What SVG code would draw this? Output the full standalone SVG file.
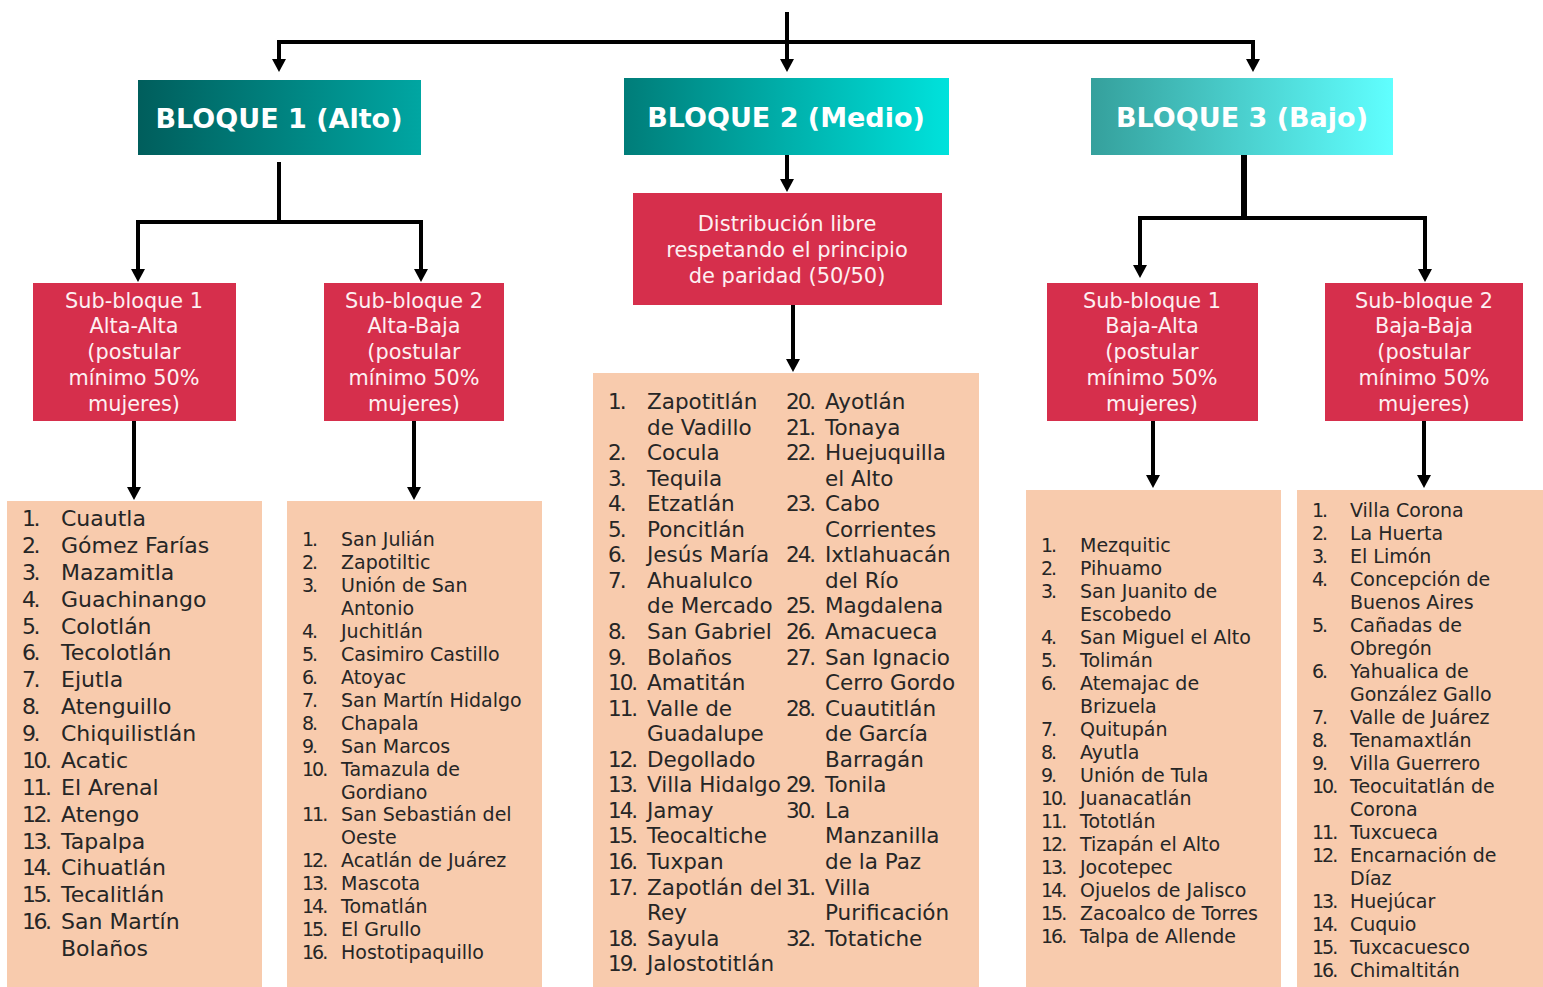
<svg xmlns="http://www.w3.org/2000/svg" width="1543" height="987" viewBox="0 0 1543 987">
<defs>
<linearGradient id="g1" x1="0" y1="0" x2="1" y2="0"><stop offset="0" stop-color="#005E5C"/><stop offset="1" stop-color="#00A6A2"/></linearGradient>
<linearGradient id="g2" x1="0" y1="0" x2="1" y2="0"><stop offset="0" stop-color="#007D79"/><stop offset="1" stop-color="#00E2DC"/></linearGradient>
<linearGradient id="g3" x1="0" y1="0" x2="1" y2="0"><stop offset="0" stop-color="#35A09C"/><stop offset="1" stop-color="#60FFFF"/></linearGradient>
<marker id="ah" markerUnits="userSpaceOnUse" markerWidth="13" markerHeight="14" viewBox="0 -7 13 14" refX="0" refY="0" orient="auto"><path d="M0,-7 L13,0 L0,7 z" fill="#000"/></marker>
<style>
.bq{font-family:"DejaVu Sans",sans-serif;font-weight:bold;font-size:27px;fill:#fff;text-anchor:middle}
.red{fill:#D62F4C}
.rt{font-family:"DejaVu Sans",sans-serif;font-size:20.8px;fill:#FDF0F2;text-anchor:middle}
.mt{font-family:"DejaVu Sans",sans-serif;font-size:21px;fill:#FDF0F2;text-anchor:middle}
.pe{fill:#F8CBAD}
.l1{font-family:"DejaVu Sans",sans-serif;font-size:22px;fill:#262626}
.l2{font-family:"DejaVu Sans",sans-serif;font-size:19px;fill:#262626}
.l3{font-family:"DejaVu Sans",sans-serif;font-size:21.5px;fill:#262626}
.l1 tspan[x="22"]{letter-spacing:-2.5px}
.l2 tspan[x="302"],.l2 tspan[x="1041"],.l2 tspan[x="1312"]{letter-spacing:-2px}
.l3 tspan[x="608"],.l3 tspan[x="786"]{letter-spacing:-2px}
.c{fill:none;stroke:#000;stroke-width:4}
</style>
</defs>
<rect width="1543" height="987" fill="#fff"/>
<g id="connectors">
<path class="c" d="M787,12 V59" marker-end="url(#ah)"/>
<path class="c" d="M279,59 V42 H1253 V59" marker-end="url(#ah)"/>
<path class="c" d="M279,42 V59" marker-end="url(#ah)"/>
<path class="c" d="M279,162 V222 H138 V269" marker-end="url(#ah)"/>
<path class="c" d="M279,222 H421 V269" marker-end="url(#ah)"/>
<path class="c" d="M134,421 V487" marker-end="url(#ah)"/>
<path class="c" d="M414,421 V487" marker-end="url(#ah)"/>
<path class="c" d="M787,155 V179" marker-end="url(#ah)"/>
<path class="c" d="M793,305 V359" marker-end="url(#ah)"/>
<path class="c" d="M1244,155 V218" style="stroke-width:6"/>
<path class="c" d="M1244,218 H1140 V265" marker-end="url(#ah)"/>
<path class="c" d="M1244,218 H1425 V269" marker-end="url(#ah)"/>
<path class="c" d="M1153,421 V475" marker-end="url(#ah)"/>
<path class="c" d="M1424,421 V475" marker-end="url(#ah)"/>
</g>
<g id="bloque1"><rect x="138" y="80" width="283" height="75" fill="url(#g1)"/><text class="bq" x="279" y="128">BLOQUE 1 (Alto)</text></g>
<g id="bloque2"><rect x="624" y="78" width="325" height="77" fill="url(#g2)"/><text class="bq" x="786" y="127">BLOQUE 2 (Medio)</text></g>
<g id="bloque3"><rect x="1091" y="78" width="302" height="77" fill="url(#g3)"/><text class="bq" x="1242" y="127">BLOQUE 3 (Bajo)</text></g>
<g id="sub1-alta"><rect class="red" x="33" y="283" width="203" height="138"/>
<text class="rt" x="134" y="307.5">Sub-bloque 1</text><text class="rt" x="134" y="333.3">Alta-Alta</text><text class="rt" x="134" y="359">(postular</text><text class="rt" x="134" y="384.8">mínimo 50%</text><text class="rt" x="134" y="410.5">mujeres)</text></g>
<g id="sub2-alta"><rect class="red" x="324" y="283" width="180" height="138"/>
<text class="rt" x="414" y="307.5">Sub-bloque 2</text><text class="rt" x="414" y="333.3">Alta-Baja</text><text class="rt" x="414" y="359">(postular</text><text class="rt" x="414" y="384.8">mínimo 50%</text><text class="rt" x="414" y="410.5">mujeres)</text></g>
<g id="distribucion"><rect class="red" x="633" y="193" width="309" height="112"/>
<text class="mt" x="787" y="230.5">Distribución libre</text><text class="mt" x="787" y="256.5">respetando el principio</text><text class="mt" x="787" y="282.5">de paridad (50/50)</text></g>
<g id="sub1-baja"><rect class="red" x="1047" y="283" width="211" height="138"/>
<text class="rt" x="1152" y="307.5">Sub-bloque 1</text><text class="rt" x="1152" y="333.3">Baja-Alta</text><text class="rt" x="1152" y="359">(postular</text><text class="rt" x="1152" y="384.8">mínimo 50%</text><text class="rt" x="1152" y="410.5">mujeres)</text></g>
<g id="sub2-baja"><rect class="red" x="1325" y="283" width="198" height="138"/>
<text class="rt" x="1424" y="307.5">Sub-bloque 2</text><text class="rt" x="1424" y="333.3">Baja-Baja</text><text class="rt" x="1424" y="359">(postular</text><text class="rt" x="1424" y="384.8">mínimo 50%</text><text class="rt" x="1424" y="410.5">mujeres)</text></g>
<g id="lista1"><rect class="pe" x="7" y="501" width="255" height="486"/>
<text class="l1"><tspan x="22" y="526">1.</tspan><tspan x="61" y="526">Cuautla</tspan><tspan x="22" y="552.9">2.</tspan><tspan x="61" y="552.9">Gómez Farías</tspan><tspan x="22" y="579.8">3.</tspan><tspan x="61" y="579.8">Mazamitla</tspan><tspan x="22" y="606.6">4.</tspan><tspan x="61" y="606.6">Guachinango</tspan><tspan x="22" y="633.5">5.</tspan><tspan x="61" y="633.5">Colotlán</tspan><tspan x="22" y="660.4">6.</tspan><tspan x="61" y="660.4">Tecolotlán</tspan><tspan x="22" y="687.3">7.</tspan><tspan x="61" y="687.3">Ejutla</tspan><tspan x="22" y="714.1">8.</tspan><tspan x="61" y="714.1">Atenguillo</tspan><tspan x="22" y="741">9.</tspan><tspan x="61" y="741">Chiquilistlán</tspan><tspan x="22" y="767.9">10.</tspan><tspan x="61" y="767.9">Acatic</tspan><tspan x="22" y="794.8">11.</tspan><tspan x="61" y="794.8">El Arenal</tspan><tspan x="22" y="821.6">12.</tspan><tspan x="61" y="821.6">Atengo</tspan><tspan x="22" y="848.5">13.</tspan><tspan x="61" y="848.5">Tapalpa</tspan><tspan x="22" y="875.4">14.</tspan><tspan x="61" y="875.4">Cihuatlán</tspan><tspan x="22" y="902.3">15.</tspan><tspan x="61" y="902.3">Tecalitlán</tspan><tspan x="22" y="929.1">16.</tspan><tspan x="61" y="929.1">San Martín</tspan><tspan x="61" y="956">Bolaños</tspan></text></g>
<g id="lista2"><rect class="pe" x="287" y="501" width="255" height="486"/>
<text class="l2"><tspan x="302" y="546">1.</tspan><tspan x="341" y="546">San Julián</tspan><tspan x="302" y="569">2.</tspan><tspan x="341" y="569">Zapotiltic</tspan><tspan x="302" y="591.9">3.</tspan><tspan x="341" y="591.9">Unión de San</tspan><tspan x="341" y="614.9">Antonio</tspan><tspan x="302" y="637.8">4.</tspan><tspan x="341" y="637.8">Juchitlán</tspan><tspan x="302" y="660.8">5.</tspan><tspan x="341" y="660.8">Casimiro Castillo</tspan><tspan x="302" y="683.7">6.</tspan><tspan x="341" y="683.7">Atoyac</tspan><tspan x="302" y="706.7">7.</tspan><tspan x="341" y="706.7">San Martín Hidalgo</tspan><tspan x="302" y="729.6">8.</tspan><tspan x="341" y="729.6">Chapala</tspan><tspan x="302" y="752.6">9.</tspan><tspan x="341" y="752.6">San Marcos</tspan><tspan x="302" y="775.5">10.</tspan><tspan x="341" y="775.5">Tamazula de</tspan><tspan x="341" y="798.5">Gordiano</tspan><tspan x="302" y="821.4">11.</tspan><tspan x="341" y="821.4">San Sebastián del</tspan><tspan x="341" y="844.4">Oeste</tspan><tspan x="302" y="867.3">12.</tspan><tspan x="341" y="867.3">Acatlán de Juárez</tspan><tspan x="302" y="890.3">13.</tspan><tspan x="341" y="890.3">Mascota</tspan><tspan x="302" y="913.2">14.</tspan><tspan x="341" y="913.2">Tomatlán</tspan><tspan x="302" y="936.2">15.</tspan><tspan x="341" y="936.2">El Grullo</tspan><tspan x="302" y="959.1">16.</tspan><tspan x="341" y="959.1">Hostotipaquillo</tspan></text></g>
<g id="lista3"><rect class="pe" x="593" y="373" width="386" height="614"/>
<text class="l3"><tspan x="608" y="409">1.</tspan><tspan x="647" y="409">Zapotitlán</tspan><tspan x="647" y="434.6">de Vadillo</tspan><tspan x="608" y="460.1">2.</tspan><tspan x="647" y="460.1">Cocula</tspan><tspan x="608" y="485.7">3.</tspan><tspan x="647" y="485.7">Tequila</tspan><tspan x="608" y="511.2">4.</tspan><tspan x="647" y="511.2">Etzatlán</tspan><tspan x="608" y="536.8">5.</tspan><tspan x="647" y="536.8">Poncitlán</tspan><tspan x="608" y="562.3">6.</tspan><tspan x="647" y="562.3">Jesús María</tspan><tspan x="608" y="587.9">7.</tspan><tspan x="647" y="587.9">Ahualulco</tspan><tspan x="647" y="613.4">de Mercado</tspan><tspan x="608" y="639">8.</tspan><tspan x="647" y="639">San Gabriel</tspan><tspan x="608" y="664.6">9.</tspan><tspan x="647" y="664.6">Bolaños</tspan><tspan x="608" y="690.1">10.</tspan><tspan x="647" y="690.1">Amatitán</tspan><tspan x="608" y="715.7">11.</tspan><tspan x="647" y="715.7">Valle de</tspan><tspan x="647" y="741.2">Guadalupe</tspan><tspan x="608" y="766.8">12.</tspan><tspan x="647" y="766.8">Degollado</tspan><tspan x="608" y="792.3">13.</tspan><tspan x="647" y="792.3">Villa Hidalgo</tspan><tspan x="608" y="817.9">14.</tspan><tspan x="647" y="817.9">Jamay</tspan><tspan x="608" y="843.4">15.</tspan><tspan x="647" y="843.4">Teocaltiche</tspan><tspan x="608" y="869">16.</tspan><tspan x="647" y="869">Tuxpan</tspan><tspan x="608" y="894.5">17.</tspan><tspan x="647" y="894.5">Zapotlán del</tspan><tspan x="647" y="920.1">Rey</tspan><tspan x="608" y="945.7">18.</tspan><tspan x="647" y="945.7">Sayula</tspan><tspan x="608" y="971.2">19.</tspan><tspan x="647" y="971.2">Jalostotitlán</tspan></text>
<text class="l3"><tspan x="786" y="409">20.</tspan><tspan x="825" y="409">Ayotlán</tspan><tspan x="786" y="434.6">21.</tspan><tspan x="825" y="434.6">Tonaya</tspan><tspan x="786" y="460.1">22.</tspan><tspan x="825" y="460.1">Huejuquilla</tspan><tspan x="825" y="485.7">el Alto</tspan><tspan x="786" y="511.2">23.</tspan><tspan x="825" y="511.2">Cabo</tspan><tspan x="825" y="536.8">Corrientes</tspan><tspan x="786" y="562.3">24.</tspan><tspan x="825" y="562.3">Ixtlahuacán</tspan><tspan x="825" y="587.9">del Río</tspan><tspan x="786" y="613.4">25.</tspan><tspan x="825" y="613.4">Magdalena</tspan><tspan x="786" y="639">26.</tspan><tspan x="825" y="639">Amacueca</tspan><tspan x="786" y="664.6">27.</tspan><tspan x="825" y="664.6">San Ignacio</tspan><tspan x="825" y="690.1">Cerro Gordo</tspan><tspan x="786" y="715.7">28.</tspan><tspan x="825" y="715.7">Cuautitlán</tspan><tspan x="825" y="741.2">de García</tspan><tspan x="825" y="766.8">Barragán</tspan><tspan x="786" y="792.3">29.</tspan><tspan x="825" y="792.3">Tonila</tspan><tspan x="786" y="817.9">30.</tspan><tspan x="825" y="817.9">La</tspan><tspan x="825" y="843.4">Manzanilla</tspan><tspan x="825" y="869">de la Paz</tspan><tspan x="786" y="894.5">31.</tspan><tspan x="825" y="894.5">Villa</tspan><tspan x="825" y="920.1">Purificación</tspan><tspan x="786" y="945.7">32.</tspan><tspan x="825" y="945.7">Totatiche</tspan></text></g>
<g id="lista4"><rect class="pe" x="1026" y="490" width="255" height="497"/>
<text class="l2"><tspan x="1041" y="552">1.</tspan><tspan x="1080" y="552">Mezquitic</tspan><tspan x="1041" y="575">2.</tspan><tspan x="1080" y="575">Pihuamo</tspan><tspan x="1041" y="598">3.</tspan><tspan x="1080" y="598">San Juanito de</tspan><tspan x="1080" y="621">Escobedo</tspan><tspan x="1041" y="644">4.</tspan><tspan x="1080" y="644">San Miguel el Alto</tspan><tspan x="1041" y="667">5.</tspan><tspan x="1080" y="667">Tolimán</tspan><tspan x="1041" y="690">6.</tspan><tspan x="1080" y="690">Atemajac de</tspan><tspan x="1080" y="713">Brizuela</tspan><tspan x="1041" y="736">7.</tspan><tspan x="1080" y="736">Quitupán</tspan><tspan x="1041" y="759">8.</tspan><tspan x="1080" y="759">Ayutla</tspan><tspan x="1041" y="782">9.</tspan><tspan x="1080" y="782">Unión de Tula</tspan><tspan x="1041" y="805">10.</tspan><tspan x="1080" y="805">Juanacatlán</tspan><tspan x="1041" y="828">11.</tspan><tspan x="1080" y="828">Tototlán</tspan><tspan x="1041" y="851">12.</tspan><tspan x="1080" y="851">Tizapán el Alto</tspan><tspan x="1041" y="874">13.</tspan><tspan x="1080" y="874">Jocotepec</tspan><tspan x="1041" y="897">14.</tspan><tspan x="1080" y="897">Ojuelos de Jalisco</tspan><tspan x="1041" y="920">15.</tspan><tspan x="1080" y="920">Zacoalco de Torres</tspan><tspan x="1041" y="943">16.</tspan><tspan x="1080" y="943">Talpa de Allende</tspan></text></g>
<g id="lista5"><rect class="pe" x="1297" y="490" width="246" height="497"/>
<text class="l2"><tspan x="1312" y="517">1.</tspan><tspan x="1350" y="517">Villa Corona</tspan><tspan x="1312" y="540">2.</tspan><tspan x="1350" y="540">La Huerta</tspan><tspan x="1312" y="563">3.</tspan><tspan x="1350" y="563">El Limón</tspan><tspan x="1312" y="586">4.</tspan><tspan x="1350" y="586">Concepción de</tspan><tspan x="1350" y="609">Buenos Aires</tspan><tspan x="1312" y="632">5.</tspan><tspan x="1350" y="632">Cañadas de</tspan><tspan x="1350" y="655">Obregón</tspan><tspan x="1312" y="678">6.</tspan><tspan x="1350" y="678">Yahualica de</tspan><tspan x="1350" y="701">González Gallo</tspan><tspan x="1312" y="724">7.</tspan><tspan x="1350" y="724">Valle de Juárez</tspan><tspan x="1312" y="747">8.</tspan><tspan x="1350" y="747">Tenamaxtlán</tspan><tspan x="1312" y="770">9.</tspan><tspan x="1350" y="770">Villa Guerrero</tspan><tspan x="1312" y="793">10.</tspan><tspan x="1350" y="793">Teocuitatlán de</tspan><tspan x="1350" y="816">Corona</tspan><tspan x="1312" y="839">11.</tspan><tspan x="1350" y="839">Tuxcueca</tspan><tspan x="1312" y="862">12.</tspan><tspan x="1350" y="862">Encarnación de</tspan><tspan x="1350" y="885">Díaz</tspan><tspan x="1312" y="908">13.</tspan><tspan x="1350" y="908">Huejúcar</tspan><tspan x="1312" y="931">14.</tspan><tspan x="1350" y="931">Cuquio</tspan><tspan x="1312" y="954">15.</tspan><tspan x="1350" y="954">Tuxcacuesco</tspan><tspan x="1312" y="977">16.</tspan><tspan x="1350" y="977">Chimaltitán</tspan></text></g>
</svg>
